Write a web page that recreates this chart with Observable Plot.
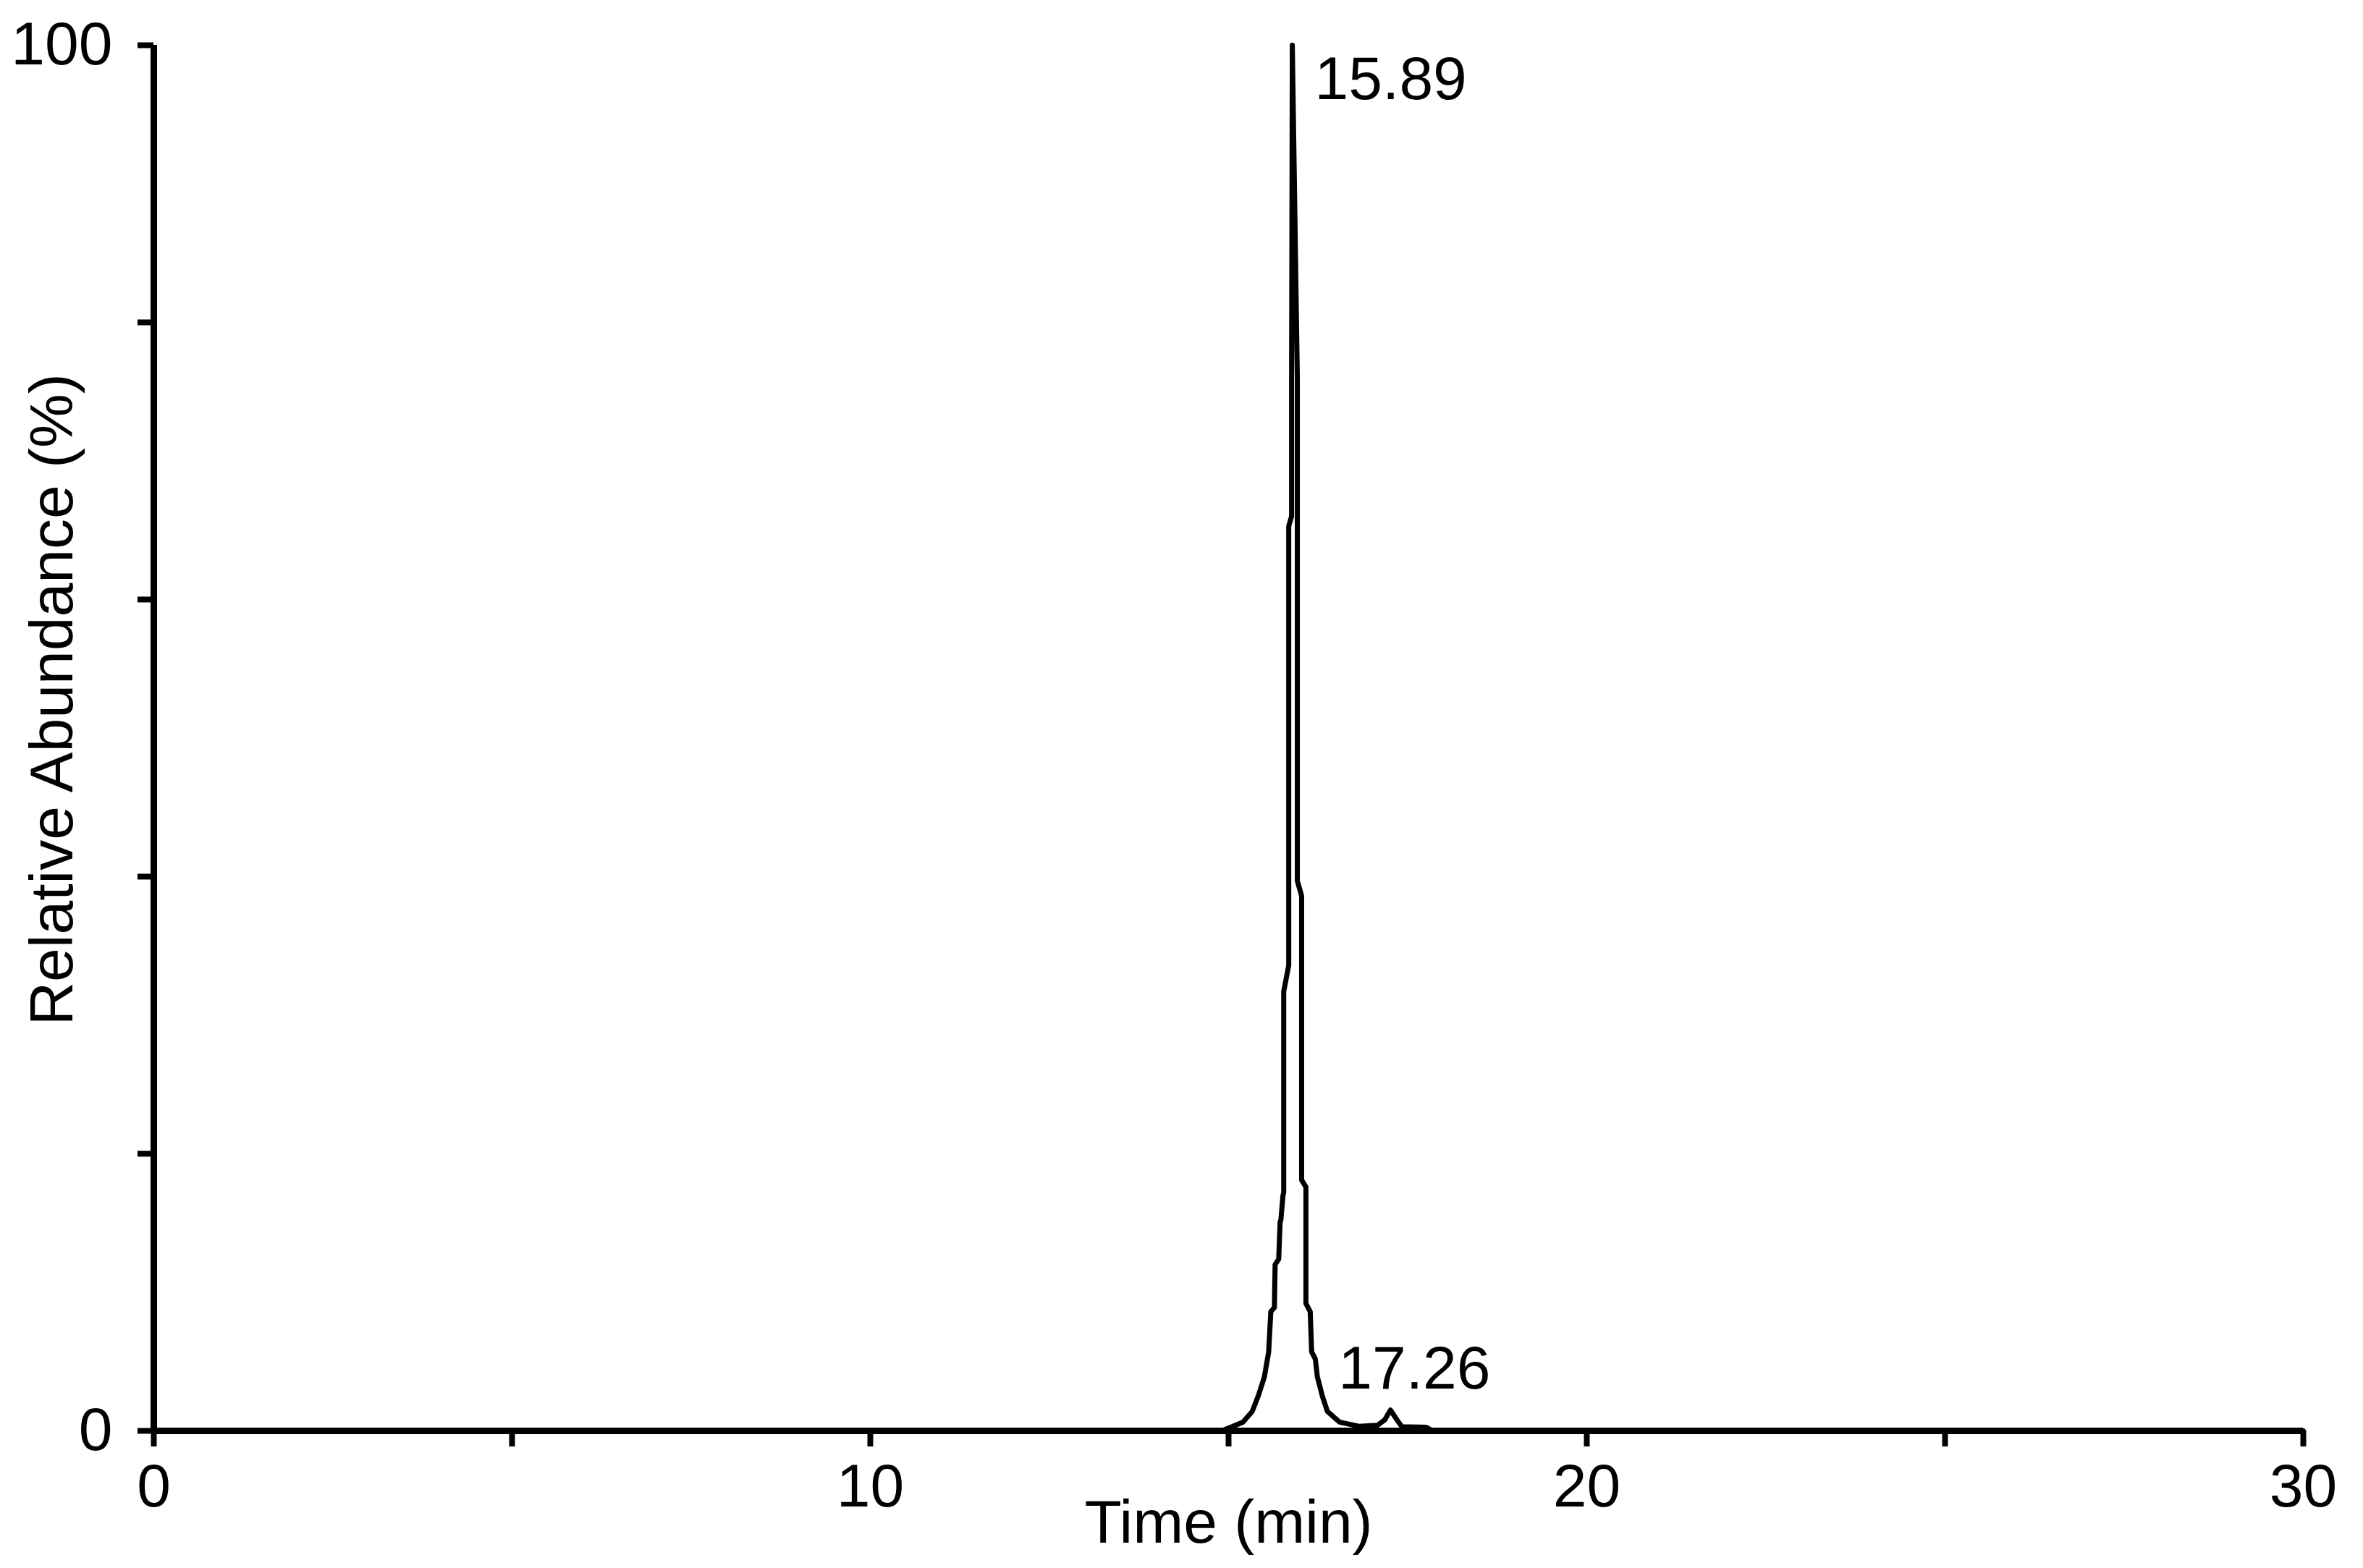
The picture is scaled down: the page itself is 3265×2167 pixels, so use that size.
<!DOCTYPE html>
<html>
<head>
<meta charset="utf-8">
<script src="https://cdn.jsdelivr.net/npm/d3@7"></script>
<script src="https://cdn.jsdelivr.net/npm/@observablehq/plot@0.6"></script>
<style>
  html, body { margin: 0; padding: 0; background: #ffffff; }
  #chart svg { display: block; }
</style>
</head>
<body>
<div id="chart"></div>
<script>
// Chromatogram trace (time in min, relative abundance in %)
const time = [0, 14.9, 15.03, 15.20, 15.33, 15.42, 15.50, 15.56, 15.59, 15.64, 15.65, 15.70, 15.72,
  15.73, 15.76, 15.77, 15.77, 15.84, 15.84, 15.88, 15.88, 15.89,
  15.96, 15.96, 16.02, 16.02, 16.08, 16.08, 16.14, 16.16, 16.21, 16.24, 16.31, 16.38, 16.55,
  16.82, 17.08, 17.18, 17.26, 17.35, 17.42, 17.76, 17.85, 30];
const abundance = [0, 0, 0.26, 0.63, 1.4, 2.6, 3.9, 5.7, 8.6, 8.9, 12.0, 12.4, 15.1,
  15.2, 17.0, 17.2, 31.7, 33.6, 65.3, 66.0, 76.0, 100,
  76.0, 39.7, 38.6, 18.1, 17.6, 9.2, 8.6, 5.7, 5.2, 3.9, 2.5, 1.4, 0.63,
  0.33, 0.4, 0.8, 1.5, 0.8, 0.3, 0.26, 0, 0];

const xTicks = [0, 5, 10, 15, 20, 25, 30];
const xTickLabels = ["0", "", "10", "", "20", "", "30"];
const yTicks = [0, 20, 40, 60, 80, 100];
const yTickLabels = ["0", "", "", "", "", "100"];

const peakTimes = [15.89, 17.26];
const peakValues = [100, 1.5];
const peakLabels = ["15.89", "17.26"];

const xTitle = "Time (min)";
const yTitle = "Relative Abundance (%)";

const trace = time.map((t, i) => ({t, v: abundance[i]}));
const peaks = peakTimes.map((t, i) => ({t, v: peakValues[i], label: peakLabels[i]}));

const FONT = 84;

const chart = Plot.plot({
  width: 3265,
  height: 2167,
  marginLeft: 212,
  marginRight: 83,
  marginTop: 62,
  marginBottom: 190,
  style: {fontFamily: "'Liberation Sans', Arial, sans-serif", fontSize: FONT + "px", background: "#ffffff", color: "#000000"},
  x: {domain: [0, 30]},
  y: {domain: [0, 100]},
  marks: [
    Plot.line(trace, {x: "t", y: "v", stroke: "#000000", strokeWidth: 7, curve: "linear"}),
    Plot.ruleY([0], {stroke: "#000000", strokeWidth: 9}),
    Plot.ruleX([0], {stroke: "#000000", strokeWidth: 9}),
    Plot.axisX({ticks: xTicks, tickFormat: (d) => xTickLabels[xTicks.indexOf(d)], tickSize: 22, tickPadding: 23, strokeWidth: 8, fontSize: FONT, label: null}),
    Plot.axisY({ticks: yTicks, tickFormat: (d) => yTickLabels[yTicks.indexOf(d)], tickSize: 22, tickPadding: 35, strokeWidth: 8, fontSize: FONT, label: null}),
    Plot.text([peaks[0]], {x: "t", y: "v", text: "label", textAnchor: "start", lineAnchor: "top", dx: 31, dy: 15, fontSize: FONT}),
    Plot.text([peaks[1]], {x: "t", y: "v", text: "label", textAnchor: "start", lineAnchor: "bottom", dx: -72, dy: -30, fontSize: FONT}),
    Plot.text([xTitle], {frameAnchor: "bottom", text: (d) => d, lineAnchor: "top", dy: 95, fontSize: FONT}),
    Plot.text([yTitle], {frameAnchor: "left", text: (d) => d, rotate: -90, textAnchor: "middle", lineAnchor: "middle", dx: -139, dy: -53, fontSize: FONT})
  ]
});
document.getElementById("chart").appendChild(chart);
</script>
</body>
</html>
